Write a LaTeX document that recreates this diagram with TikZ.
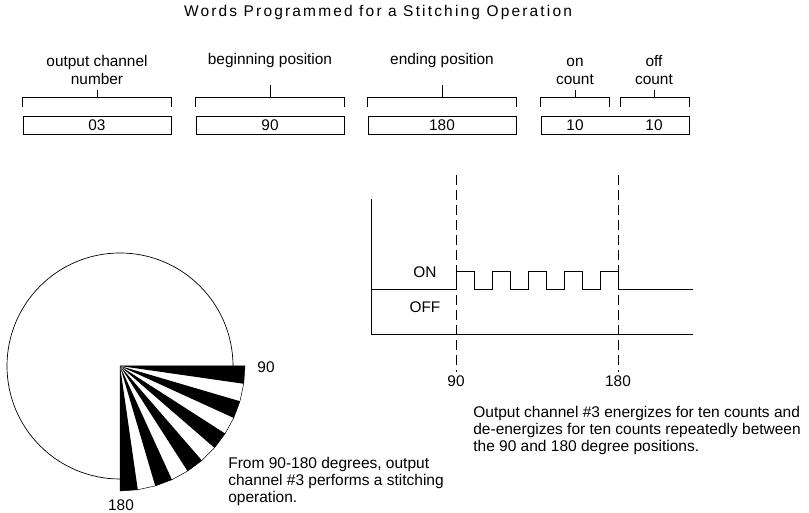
\documentclass[tikz,border=0pt]{standalone}
\usepackage{fontspec}
\setmainfont{Liberation Sans}
\newfontfamily\ttlfont[LetterSpace=14]{Liberation Sans}
\usetikzlibrary{positioning}
\usetikzlibrary{calc}
\tikzset{word/.style={draw, minimum width=148pt, minimum height=18pt, inner sep=0pt}}
\tikzset{lbl/.style={align=center, inner sep=0pt, font=\fontsize{15.4}{18}\selectfont}}
\tikzset{note/.style={align=left, anchor=west, inner sep=0pt, font=\fontsize{15.5}{17}\selectfont}}
\tikzset{guide/.style={dash pattern=on 10pt off 5pt}}

\begin{document}
\begin{tikzpicture}[x=1pt, y=1pt, line width=0.7pt, font=\fontsize{15.4}{17}\selectfont]
\useasboundingbox (0,0) rectangle (809,513);
\node[font={\fontsize{15.5}{17}\ttlfont}] (title) at (378,500) {Words Programmed for a Stitching Operation};

% program words
\node[word] (chanbox) at (97,388) {03};
\node[word] (bgnbox) at (270,388) {90};
\node[word] (endbox) at (442,388) {180};
\node[word] (cntbox) at (615,388) {};
\node (onval) at (575,388) {10};
\node (offval) at (654,388) {10};

\node[lbl] (chanlbl) at (97,443) {output channel\\number};
\node[lbl] (bgnlbl) at (270,452) {beginning position};
\node[lbl] (endlbl) at (442,452) {ending position};
\node[lbl] (onlbl) at (575,443) {\vphantom{f}on\\count};
\node[lbl] (offlbl) at (654,443) {off\\count};

\foreach \b in {chanbox,bgnbox,endbox}
  \draw ([yshift=9pt]\b.north west) |- ([yshift=18pt]\b.north) -| ([yshift=9pt]\b.north east);
\draw ([yshift=18pt]chanbox.north) -- ++(0,8);
\draw ([yshift=18pt]bgnbox.north) -- ++(0,13);
\draw ([yshift=18pt]endbox.north) -- ++(0,13);
\draw ([yshift=9pt]cntbox.north west) -- ++(0,9) -- ++(69,0) -- ++(0,-9);
\draw ([yshift=9pt]cntbox.north east) -- ++(0,9) -- ++(-69,0) -- ++(0,-9);
\draw ($(onval |- cntbox.north)+(0,18)$) -- ++(0,8);
\draw ($(offval |- cntbox.north)+(0,18)$) -- ++(0,8);

% timing chart
\coordinate (org) at (371,179);
\draw (371,314) -- (org) -- (693,179);
\node (onlvl) at (425,241) {ON};
\node (offlvl) at (425,206) {OFF};
\node (deg90) at (456,132) {90};
\node (deg180) at (618,132) {180};
\coordinate (top90) at (456,338);
\coordinate (top180) at (618,338);
\draw[guide] (top90) -- (deg90);
\draw[guide] (top180) -- (deg180);
\draw (371,224) -- (456,224)
  \foreach \k in {1,...,4} { -- ++(0,18) -- ++(18,0) -- ++(0,-18) -- ++(18,0) }
  -- ++(0,18) -- ++(18,0) -- ++(0,-18) -- (693,224);

% rotation
\coordinate (hub) at (120,147);
\draw (hub) ++(0:113) arc[start angle=0, end angle=270, radius=113];
\foreach \i in {0,2,...,10}
  \fill (hub) -- ($(hub)+({-\i*90/11}:125)$) -- ($(hub)+({-(\i+1)*90/11}:125)$) -- cycle;
\draw[line width=0.5pt] (hub) \foreach \i in {0,...,11} { -- ($(hub)+({-\i*90/11}:125)$) } -- cycle;
\node (pos90) at (266,146) {90};
\node (pos180) at (121,8) {180};

\node[note] (stitchnote) at (228,32) {From 90-180 degrees, output\\channel \#3 performs a stitching\\operation.};
\node[note] (pulsenote) at (473,83) {Output channel \#3 energizes for ten counts and\\de-energizes for ten counts repeatedly between\\the 90 and 180 degree positions.};
\end{tikzpicture}
\end{document}
